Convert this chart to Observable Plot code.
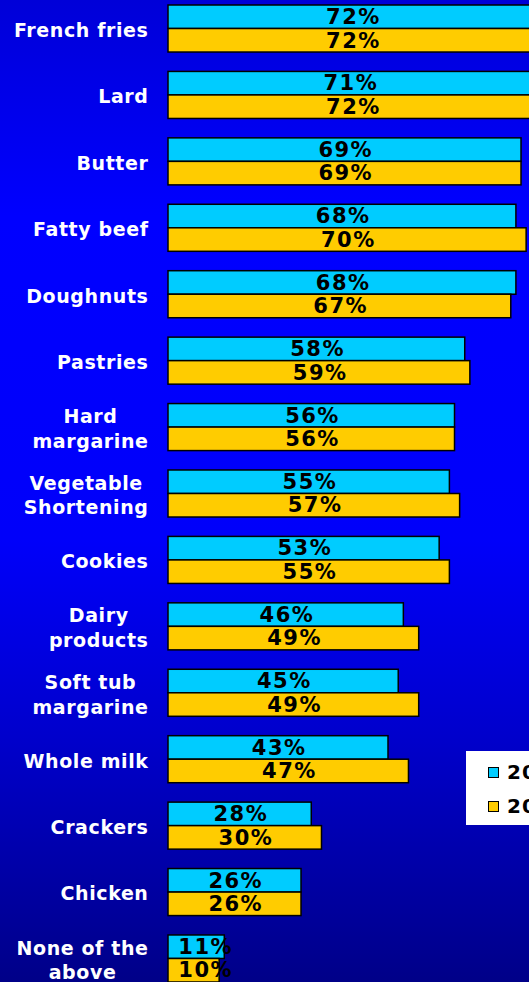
<!DOCTYPE html>
<html><head><meta charset="utf-8">
<script src="https://cdn.jsdelivr.net/npm/d3@7"></script>
<script src="https://cdn.jsdelivr.net/npm/@observablehq/plot@0.6"></script>
<style>
html,body{margin:0;padding:0;overflow:hidden;background:#000088;}
#chart{position:relative;width:529px;height:982px;overflow:hidden;
background:linear-gradient(to bottom,#0000d8 0%,#0000ff 22%,#0000fa 55%,#0000cc 75%,#000088 100%);}
#legend{position:absolute;left:466px;top:751px;width:110px;height:74px;background:#fff;font-family:"DejaVu Sans";font-weight:bold;font-size:20px;letter-spacing:1px;color:#000;}
#legend .item{position:absolute;left:22px;height:20px;display:flex;align-items:center;white-space:nowrap;}
#legend .sw{width:9px;height:9px;border:1px solid #000;margin-right:8px;}
</style></head>
<body><div id="chart"><div id="legend"></div></div>
<script>
const categories = ["French fries","Lard","Butter","Fatty beef","Doughnuts","Pastries","Hard margarine","Vegetable Shortening","Cookies","Dairy products","Soft tub margarine","Whole milk","Crackers","Chicken","None of the above"];
const labelLines = ["French fries","Lard","Butter","Fatty beef","Doughnuts","Pastries","Hard\nmargarine","Vegetable\nShortening","Cookies","Dairy\nproducts","Soft tub\nmargarine","Whole milk","Crackers","Chicken","None of the\nabove"];
const series = ["2004","2005"];
const values2004 = [72,71,69,68,68,58,56,55,53,46,45,43,28,26,11];
const values2005 = [72,72,69,70,67,59,56,57,55,49,49,47,30,26,10];
const colors = ["#00CCFF","#FFCC00"];

const rows = [];
categories.forEach((c,i)=>{
  rows.push({category:c, series:series[0], value:values2004[i]});
  rows.push({category:c, series:series[1], value:values2005[i]});
});

const chart = Plot.plot({
  width:529, height:982,
  marginLeft:168, marginRight:0, marginTop:5, marginBottom:0,
  style:{background:"transparent", fontFamily:"DejaVu Sans"},
  x:{domain:[0,70.56], axis:null},
  y:{domain:series, axis:null, padding:0, round:false},
  fy:{domain:categories, axis:null, paddingInner:0.292, paddingOuter:0, round:false},
  color:{domain:series, range:colors},
  marks:[
    Plot.barX(rows,{x:"value", y:"series", fy:"category", fill:"series", stroke:"black", strokeWidth:1.5}),
    Plot.text(rows,{x:d=>Math.max(d.value/2,7.13), y:"series", fy:"category", text:d=>d.value+"%", fill:"black", fontWeight:"bold", fontSize:21}),
    Plot.text(categories,{fy:d=>d, text:(d,i)=>labelLines[i], frameAnchor:"left", dx:-20, textAnchor:"end", fill:"white", fontWeight:"bold", fontSize:19, lineHeight:1.3})
  ]
});
document.getElementById("chart").appendChild(chart);

const textGroups = chart.querySelectorAll('g[aria-label="text"]');
textGroups[0].setAttribute("letter-spacing","1.5");
textGroups[0].querySelectorAll("text").forEach(t=>{ t.setAttribute("dx","0.75"); });
const labelGroup = textGroups[textGroups.length-1];
labelGroup.setAttribute("letter-spacing","0.6");
labelGroup.querySelectorAll("text").forEach(t=>{
  const tspans = t.querySelectorAll("tspan");
  if (tspans.length < 2) return;
  const w = t.getBBox().width;
  t.setAttribute("text-anchor","middle");
  tspans.forEach(ts=>{
    const x0 = parseFloat(ts.getAttribute("x") || "0");
    ts.setAttribute("x", x0 - w/2);
  });
});

const legend = document.getElementById("legend");
series.forEach((s,i)=>{
  const it = document.createElement("div");
  it.className = "item";
  it.style.top = (11 + i*34) + "px";
  it.innerHTML = `<span class="sw" style="background:${colors[i]}"></span><span>${s}</span>`;
  legend.appendChild(it);
});
</script>
</body></html>
